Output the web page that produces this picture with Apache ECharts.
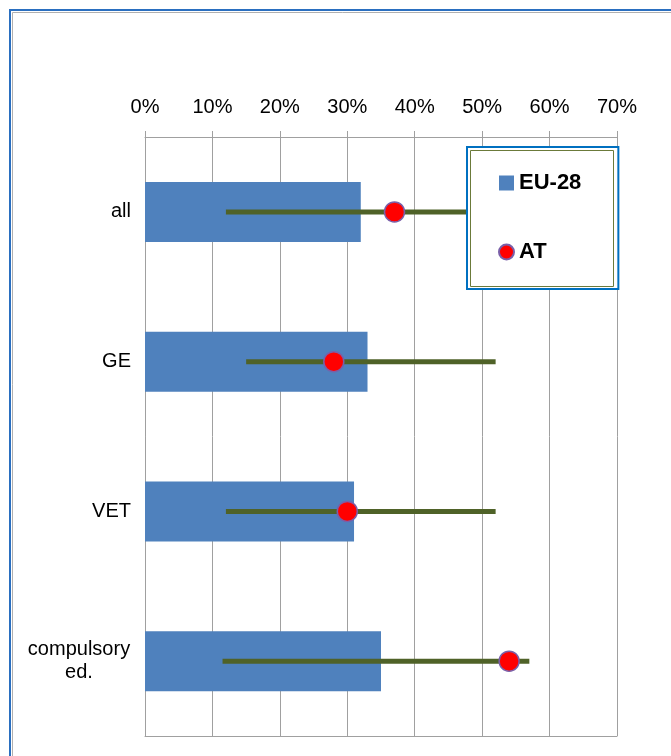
<!DOCTYPE html>
<html><head><meta charset="utf-8">
<script src="https://cdn.jsdelivr.net/npm/echarts@6/dist/echarts.min.js"></script>
<style>html,body{margin:0;padding:0;background:#fff}#c{width:671px;height:756px}</style>
</head><body><div id="c"></div>
<script>
const categories = ['all', 'GE', 'VET', 'compulsory\ned.'];
const eu28 = [32, 33, 31, 35];
const at = [37, 28, 30, 54];
const rangeLow = [12, 15, 12, 11.5];
const rangeHigh = [55, 52, 52, 57];
const xTicks = [0, 10, 20, 30, 40, 50, 60, 70];

const chart = echarts.init(document.getElementById('c'));
const rangeData = categories.map((c, i) => [rangeLow[i], rangeHigh[i], i]);
const catItems = categories.map(c => c.indexOf('\n') >= 0
  ? { value: c, textStyle: { align: 'center', padding: [0, 104, 0, 0], lineHeight: 23 } }
  : { value: c });
chart.setOption({
  animation: false,
  backgroundColor: '#fff',
  grid: { left: 145, right: 54, top: 137, bottom: 20, containLabel: false },
  xAxis: [{
    type: 'value', position: 'top', min: xTicks[0], max: xTicks[xTicks.length - 1], interval: 10,
    axisLine: { show: true, lineStyle: { color: '#a0a0a0', width: 1 } },
    axisTick: { show: true, length: 6, lineStyle: { color: '#a0a0a0' } },
    axisLabel: { formatter: '{value}%', color: '#000', fontFamily: 'Liberation Sans', fontSize: 20, margin: 20 },
    splitLine: { show: true, lineStyle: { color: '#a0a0a0', width: 1 } }
  }, {
    type: 'value', position: 'bottom', min: 0, max: 70, interval: 10,
    axisLine: { show: true, lineStyle: { color: '#a0a0a0', width: 1 } },
    axisTick: { show: false }, axisLabel: { show: false }, splitLine: { show: false }
  }],
  yAxis: {
    type: 'category', data: catItems, inverse: true,
    axisLine: { show: true, lineStyle: { color: '#a0a0a0' } },
    axisTick: { show: false },
    axisLabel: { color: '#000', fontFamily: 'Liberation Sans', fontSize: 20, margin: 14 }
  },
  legend: {
    orient: 'vertical', left: 467, top: 147,
    padding: [25, 37, 26, 31],
    itemGap: 47, itemWidth: 15, itemHeight: 15,
    backgroundColor: '#fff', borderColor: '#0070c0', borderWidth: 2,
    textStyle: { fontFamily: 'Liberation Sans', fontWeight: 'bold', fontSize: 22, color: '#000' },
    data: [
      { name: 'EU-28', icon: 'rect' },
      { name: 'AT', icon: 'circle' }
    ],
    z: 20
  },
  series: [
    {
      name: 'EU-28', type: 'bar', data: eu28, barWidth: 60,
      itemStyle: { color: '#4f81bd' }, z: 2
    },
    {
      name: 'range', type: 'custom', data: rangeData, z: 3,
      encode: { x: [0, 1], y: 2 },
      renderItem: function (params, api) {
        const p1 = api.coord([api.value(0), api.value(2)]);
        const p2 = api.coord([api.value(1), api.value(2)]);
        return { type: 'line', shape: { x1: p1[0], y1: p1[1], x2: p2[0], y2: p2[1] },
          style: { stroke: '#4f6228', lineWidth: 5 } };
      }
    },
    {
      name: 'AT', type: 'scatter', data: at.map((v, i) => [v, i]), symbol: 'circle', symbolSize: 20,
      itemStyle: { color: '#ff0000', borderColor: '#7a5fa8', borderWidth: 1.5, opacity: 1 }, z: 4
    }
  ],
  graphic: [
    { type: 'rect', shape: { x: 10, y: 10, width: 720, height: 800 }, style: { fill: 'none', stroke: '#2a6fc0', lineWidth: 2 }, z: 30 },
    { type: 'rect', shape: { x: 12.5, y: 12.5, width: 720, height: 800 }, style: { fill: 'none', stroke: '#b0b0b0', lineWidth: 1 }, z: 30 },
    { type: 'rect', shape: { x: 470.5, y: 150.5, width: 143, height: 136 }, style: { fill: 'none', stroke: '#6b7a3a', lineWidth: 1 }, z: 100 }
  ]
});
</script></body></html>
